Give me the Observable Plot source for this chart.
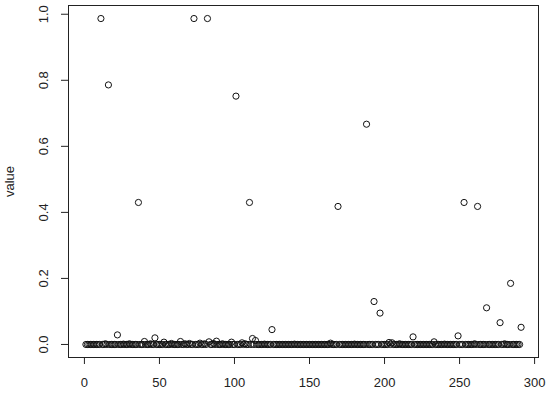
<!DOCTYPE html>
<html>
<head>
<meta charset="utf-8">
<script src="https://cdn.jsdelivr.net/npm/d3@7"></script>
<script src="https://cdn.jsdelivr.net/npm/@observablehq/plot@0.6"></script>
<style>
  html, body { margin: 0; padding: 0; background: #fff; }
  svg { display: block; }
</style>
</head>
<body>
<div id="chart"></div>
<script>
// Series values, index 1..291
const values = [
  0,0,0,0,0,0,0,0,0,0,
  0.987,0,0,0.002,0,0.786,0,0,0,0,
  0,0.029,0,0,0,0.001,0,0,0,0.002,
  0,0,0,0,0,0.43,0,0,0,0.009,
  0,0,0,0.002,0,0,0.02,0,0,0,
  0,0,0.007,0,0,0,0,0.003,0,0,
  0,0,0,0.009,0,0,0.002,0,0,0.003,
  0,0,0.987,0,0,0,0.004,0,0,0.002,
  0,0.987,0.008,0,0,0.003,0,0.01,0,0,
  0,0.002,0,0,0,0,0,0.007,0,0,
  0.752,0,0,0,0.005,0,0.002,0,0,0.43,
  0,0.018,0,0.012,0,0,0,0,0,0.001,
  0,0,0,0,0.045,0,0,0,0,0,
  0,0,0,0,0,0,0,0,0,0.001,
  0,0,0,0,0,0,0,0,0,0,
  0,0,0,0,0,0,0,0,0,0,
  0,0,0,0.004,0,0,0,0,0.418,0,
  0,0,0,0,0,0,0,0,0,0.001,
  0,0,0,0,0,0,0,0.667,0,0,
  0,0,0.13,0,0,0,0.095,0,0,0,
  0,0,0.006,0,0.005,0,0,0,0,0.002,
  0,0,0,0,0,0,0,0,0.023,0,
  0,0,0,0,0,0,0,0,0,0,
  0,0,0.008,0,0,0,0,0,0,0.001,
  0,0,0,0,0,0,0,0,0.026,0,
  0,0,0.43,0,0,0,0,0,0,0.002,
  0,0.418,0,0,0,0,0,0.111,0,0,
  0,0,0,0,0,0,0.066,0,0,0.002,
  0,0,0,0.185,0,0,0,0,0,0,
  0.052
];
const xTicks = [0, 50, 100, 150, 200, 250, 300];
const yTicks = [0, 0.2, 0.4, 0.6, 0.8, 1.0];
const yLabel = "value";

const data = values.map((v, i) => ({index: i + 1, value: v}));

const n = values.length;
const xPad = (n - 1) * 0.04;
const yMax = d3.max(values), yMin = d3.min(values);
const yPad = (yMax - yMin) * 0.04;

const chart = Plot.plot({
  width: 550,
  height: 394,
  marginLeft: 68,
  marginRight: 12,
  marginTop: 5,
  marginBottom: 37,
  style: {fontFamily: "'Liberation Sans', Arial, sans-serif", fontSize: "13px", color: "#000", background: "#fff"},
  x: {domain: [1 - xPad, n + xPad]},
  y: {domain: [yMin - yPad, yMax + yPad]},
  marks: [
    Plot.frame({stroke: "#222", strokeWidth: 1}),
    Plot.axisX({ticks: xTicks, tickSize: 7, tickPadding: 13, tickFormat: d => String(d), fontSize: 13, stroke: "#222", fill: "#222", label: null}),
    Plot.axisY({ticks: yTicks, tickSize: 7, tickPadding: 14, tickRotate: -90, textAnchor: "middle", tickFormat: d => d.toFixed(1), fontSize: 13, stroke: "#222", fill: "#222",
      label: yLabel, labelAnchor: "center", labelArrow: "none", labelOffset: 64}),
    Plot.dot(data, {x: "index", y: "value", r: 3.1, stroke: "#111", strokeWidth: 1, fill: "none"})
  ]
});
document.getElementById("chart").appendChild(chart);
</script>
</body>
</html>
